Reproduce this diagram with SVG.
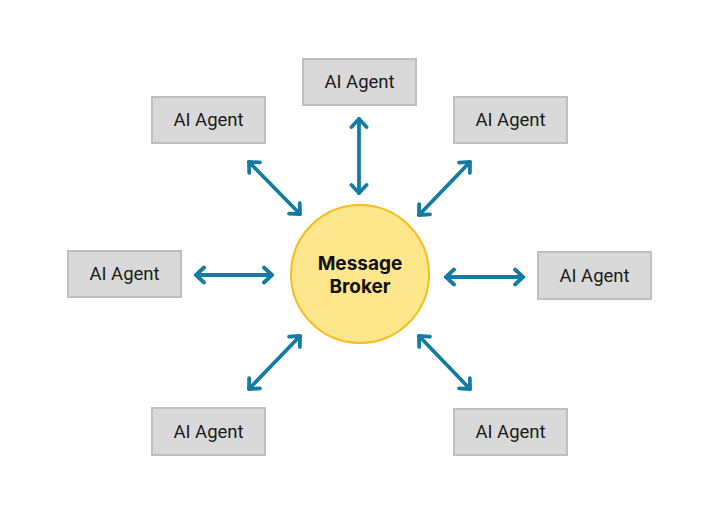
<svg xmlns="http://www.w3.org/2000/svg" width="718" height="516" viewBox="0 0 718 516">
  <style>
    .box { fill: #d9d9d9; stroke: #bfbfbf; stroke-width: 2; }
    .lbl { font-family: Roboto, "Liberation Sans", sans-serif; font-size: 18.5px; fill: #1a1a1a; text-anchor: middle; }
    .hub { fill: #fde68c; stroke: #f5be1d; stroke-width: 2; }
    .hubl { font-family: Inter, Roboto, "Liberation Sans", sans-serif; font-size: 19px; font-weight: 700; fill: #111; text-anchor: middle; }
    .conn { stroke: #137ca0; stroke-width: 3.8; fill: none; stroke-linecap: round; marker-start: url(#ah); marker-end: url(#ah); }
  </style>
  <defs>
    <marker id="ah" viewBox="-12 -10 16 20" refX="0" refY="0" markerWidth="16" markerHeight="20" markerUnits="userSpaceOnUse" orient="auto-start-reverse">
      <path d="M-8,-7.5 L0,0 L-8,7.5" fill="none" stroke="#137ca0" stroke-width="3.8" stroke-linecap="round" stroke-linejoin="round"/>
    </marker>
  </defs>
  <rect width="718" height="516" fill="#ffffff"/>
  <g id="connectors">
    <line class="conn" x1="249" y1="162" x2="300" y2="214"/>
    <line class="conn" x1="359" y1="119" x2="359" y2="193"/>
    <line class="conn" x1="470" y1="162" x2="419" y2="215"/>
    <line class="conn" x1="196" y1="275" x2="272" y2="275"/>
    <line class="conn" x1="446" y1="277" x2="523" y2="277"/>
    <line class="conn" x1="300" y1="336" x2="249" y2="389"/>
    <line class="conn" x1="419" y1="336" x2="470" y2="389"/>
  </g>
  <g id="broker">
    <circle class="hub" cx="360" cy="274" r="69"/>
    <text class="hubl" x="360" y="270">Message</text>
    <text class="hubl" x="360" y="293">Broker</text>
  </g>
  <g id="agent-top-left">
    <rect class="box" x="152" y="97" width="113" height="46"/>
    <text class="lbl" x="208.5" y="126">AI Agent</text>
  </g>
  <g id="agent-top">
    <rect class="box" x="303" y="59" width="113" height="46"/>
    <text class="lbl" x="359.5" y="88">AI Agent</text>
  </g>
  <g id="agent-top-right">
    <rect class="box" x="454" y="97" width="113" height="46"/>
    <text class="lbl" x="510.5" y="126">AI Agent</text>
  </g>
  <g id="agent-left">
    <rect class="box" x="68" y="251" width="113" height="46"/>
    <text class="lbl" x="124.5" y="280">AI Agent</text>
  </g>
  <g id="agent-right">
    <rect class="box" x="538" y="252" width="113" height="47"/>
    <text class="lbl" x="594.5" y="281.5">AI Agent</text>
  </g>
  <g id="agent-bottom-left">
    <rect class="box" x="152" y="408" width="113" height="47"/>
    <text class="lbl" x="208.5" y="437.5">AI Agent</text>
  </g>
  <g id="agent-bottom-right">
    <rect class="box" x="454" y="409" width="113" height="46"/>
    <text class="lbl" x="510.5" y="438">AI Agent</text>
  </g>
</svg>
